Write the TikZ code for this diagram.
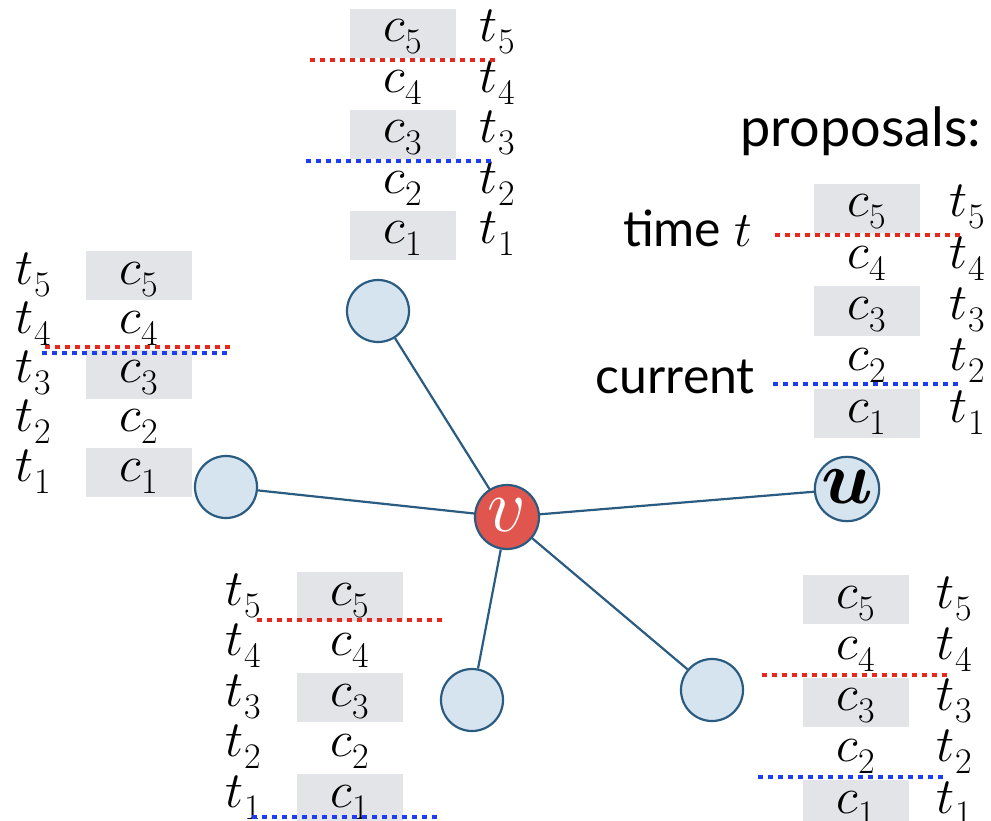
\RequirePackage{fix-cm}
\documentclass[tikz,border=0pt]{standalone}
\usepackage{fontspec}
\newfontfamily\lato{Lato}
\definecolor{edgeblue}{RGB}{42,92,130}
\definecolor{nodefill}{RGB}{214,228,240}
\definecolor{vred}{RGB}{224,86,78}
\definecolor{boxgray}{RGB}{227,228,232}
\definecolor{dotred}{RGB}{232,40,30}
\definecolor{dotblue}{RGB}{30,60,240}
\newcommand\symsub[2]{$#1$\kern0.5pt\raisebox{-12pt}{\fontsize{36}{36}\selectfont #2}}
\tikzset{
  plainnode/.style={circle,draw=edgeblue,line width=2.2pt,fill=nodefill,minimum size=62pt,inner sep=0pt},
  vnode/.style={circle,draw=edgeblue,line width=2.2pt,fill=vred,minimum size=64pt,inner sep=0pt,text=white},
  link/.style={draw=edgeblue,line width=2.2pt},
  lab/.style={anchor=base,inner sep=0pt,font=\fontsize{51}{54}\selectfont},
  sans/.style={inner sep=0pt,font=\lato\fontsize{50}{54}\selectfont},
  reddots/.style={draw=dotred,line width=4.5pt,dash pattern=on 5pt off 5pt},
  bluedots/.style={draw=dotblue,line width=4.5pt,dash pattern=on 5pt off 5pt},
}
% #1 name, #2 c-column x, #3 t-column x, #4 baseline of row 5, #5 row pitch
\newcommand\ptable[5]{%
  \foreach \i in {5,...,1}{%
    \pgfmathsetmacro\yy{#4+(5-\i)*#5}%
    \ifodd\i
      \fill[boxgray] (#2-53,\yy-33) rectangle (#2+53,\yy+16);
    \fi
    \node[lab] (#1c\i) at (#2,\yy) {\symsub{c}{\i}};
    \node[lab] (#1t\i) at (#3,\yy) {\symsub{t}{\i}};
  }%
}
\begin{document}
\begin{tikzpicture}[x=1pt,y=-1pt]
\useasboundingbox (0,0) rectangle (991,821);
% tables
\ptable{top}{403}{497}{42}{50.5}
\ptable{left}{138.5}{33}{284}{49.3}
\ptable{right}{867}{967}{217}{51.25}
\ptable{bl}{349.5}{243}{605}{50.5}
\ptable{br}{855.5}{954}{608}{51.3}
% dotted thresholds
\draw[reddots] (310,60) -- (497,60);
\draw[bluedots] (306,161) -- (493,161);
\draw[reddots] (45,347) -- (230,347);
\draw[bluedots] (42,353) -- (228,353);
\draw[reddots] (775,235) -- (962,235);
\draw[bluedots] (773,384) -- (960,384);
\draw[reddots] (257,620) -- (442,620);
\draw[bluedots] (252,817) -- (440,817);
\draw[reddots] (762,675) -- (948,675);
\draw[bluedots] (758,777) -- (945,777);
% labels
\node[sans,anchor=base east,font=\lato\fontsize{54}{56}\selectfont] (proposals) at (981,147) {proposals:};
\node[sans,anchor=base east] (timet) at (752,247) {time {\fontsize{50}{50}\selectfont$t$}};
\node[sans,anchor=base east] (current) at (755,393) {current};
% graph
\node[plainnode] (top) at (378,311) {};
\node[plainnode] (left) at (226,487) {};
\node[plainnode] (bleft) at (472,700) {};
\node[plainnode] (bright) at (712,690) {};
\node[plainnode,font=\fontsize{76}{76}\selectfont\boldmath] (u) at (847,489) {\raisebox{0.06em}{$u$}};
\node[vnode,font=\fontsize{76}{76}\selectfont] (v) at (507,517) {\raisebox{0.05em}{$v$}};
\foreach \n in {top,left,bleft,bright,u}{\draw[link] (v) -- (\n);}
\end{tikzpicture}
\end{document}
